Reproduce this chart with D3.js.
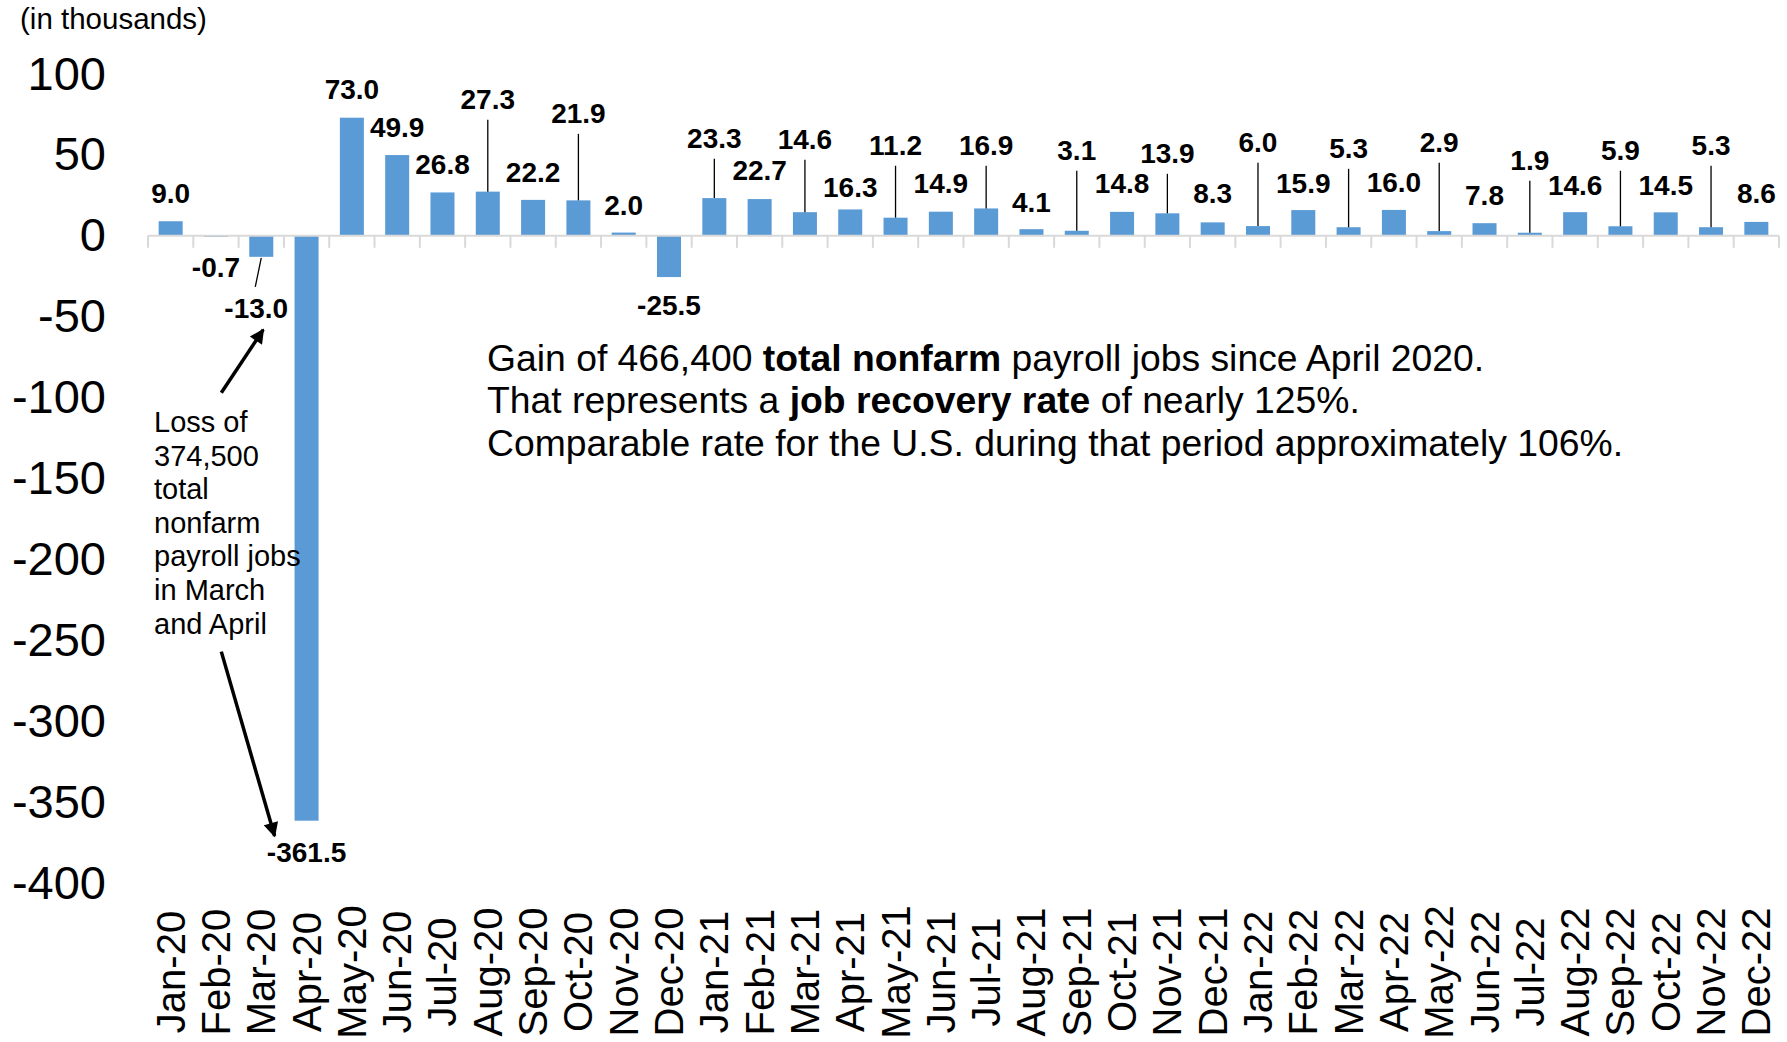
<!DOCTYPE html>
<html>
<head>
<meta charset="utf-8">
<script src="https://cdn.jsdelivr.net/npm/d3@7"></script>
<style>
  body { margin: 0; background: #fff; }
  text { font-family: "Liberation Sans", Arial, sans-serif; }
</style>
</head>
<body>
<svg id="chart" width="1787" height="1042"></svg>
<script>
const months = ["Jan-20","Feb-20","Mar-20","Apr-20","May-20","Jun-20","Jul-20","Aug-20","Sep-20","Oct-20","Nov-20","Dec-20",
  "Jan-21","Feb-21","Mar-21","Apr-21","May-21","Jun-21","Jul-21","Aug-21","Sep-21","Oct-21","Nov-21","Dec-21",
  "Jan-22","Feb-22","Mar-22","Apr-22","May-22","Jun-22","Jul-22","Aug-22","Sep-22","Oct-22","Nov-22","Dec-22"];
const change = [9.0,-0.7,-13.0,-361.5,73.0,49.9,26.8,27.3,22.2,21.9,2.0,-25.5,
  23.3,22.7,14.6,16.3,11.2,14.9,16.9,4.1,3.1,14.8,13.9,8.3,
  6.0,15.9,5.3,16.0,2.9,7.8,1.9,14.6,5.9,14.5,5.3,8.6];
// value (in thousands) at which each data label sits
const labelAt = [20.4,-25.3,-50.7,-386.9,84.7,61.2,38.3,78.5,33.4,69.8,13.0,-48.8,
  54.4,34.6,53.8,24.1,50.1,26.6,50.1,14.8,47.0,26.6,45.1,20.4,
  51.9,26.6,48.2,27.2,51.9,19.2,40.8,25.3,47.0,25.3,50.1,20.4];
// labels joined to their bar by a leader line
const leader = ["Mar-20","Aug-20","Oct-20","Jan-21","Mar-21","May-21","Jul-21","Sep-21","Nov-21",
  "Jan-22","Mar-22","May-22","Jul-22","Sep-22","Nov-22"];
const yTicks = [100,50,0,-50,-100,-150,-200,-250,-300,-350,-400];
const noteLines = ["Loss of","374,500","total","nonfarm","payroll jobs","in March","and April"];
const gainLines = [
  [["Gain of 466,400 ",false],["total nonfarm",true],[" payroll jobs since April 2020.",false]],
  [["That represents a ",false],["job recovery rate",true],[" of nearly 125%.",false]],
  [["Comparable rate for the U.S. during that period approximately 106%.",false]]
];

const svg = d3.select("#chart");
const x = d3.scaleBand().domain(months).range([148, 1779]).paddingInner(0.47).paddingOuter(0.235);
const band = d3.scaleBand().domain(months).range([148, 1779]);
const y = d3.scaleLinear().domain([-400, 100]).range([883, 74]);
const xc = m => x(m) + x.bandwidth() / 2;
const fmt1 = v => v.toFixed(1);  // plain hyphen for negatives, as in the original

svg.append("defs").append("marker")
    .attr("id", "arrow").attr("viewBox", "0 0 10 10")
    .attr("refX", 9).attr("refY", 5)
    .attr("markerWidth", 5).attr("markerHeight", 4.2)
    .attr("markerUnits", "strokeWidth")
    .attr("orient", "auto")
  .append("path").attr("d", "M0,0L10,5L0,10Z").attr("fill", "#000");

// unit note
svg.append("text").attr("x", 20).attr("y", 29)
    .attr("font-size", 29.5).text("(in thousands)");

// y axis labels
const yAxis = svg.append("g").attr("transform", "translate(110,0)")
    .call(d3.axisLeft(y).tickValues(yTicks).tickSize(0).tickPadding(4).tickFormat(d => String(d)));
yAxis.select(".domain").remove();
yAxis.selectAll("text").attr("font-size", 47).attr("fill", "#000")
    .attr("font-family", "'Liberation Sans', Arial, sans-serif");

// bars
svg.append("g").selectAll("rect")
  .data(months).join("rect")
    .attr("x", d => x(d))
    .attr("width", x.bandwidth())
    .attr("y", (d, i) => y(Math.max(0, change[i])))
    .attr("height", (d, i) => Math.abs(y(change[i]) - y(0)))
    .attr("fill", "#5b9bd5");

// x axis line and ticks
const axis = svg.append("g");
axis.append("line").attr("x1", band.range()[0]).attr("x2", band.range()[1])
    .attr("y1", y(0)).attr("y2", y(0)).attr("stroke", "#d9d9d9").attr("stroke-width", 2);
axis.selectAll("line.tk").data(months.concat(["end"])).join("line").attr("class", "tk")
    .attr("x1", (d, i) => band.range()[0] + i * band.step())
    .attr("x2", (d, i) => band.range()[0] + i * band.step())
    .attr("y1", y(0)).attr("y2", y(0) + 12)
    .attr("stroke", "#d9d9d9").attr("stroke-width", 2);
axis.selectAll("text").data(months).join("text")
    .attr("transform", d => `translate(${xc(d)},972) rotate(-90)`)
    .attr("text-anchor", "middle").attr("dy", "0.35em")
    .attr("font-size", 40).text(d => d);

// leader lines
svg.append("g").selectAll("line")
  .data(months.filter(m => leader.includes(m))).join("line")
    .attr("x1", d => xc(d) + (d === "Mar-20" ? -6 : 0))
    .attr("x2", d => xc(d))
    .attr("y1", d => {
      const i = months.indexOf(d);
      return change[i] < 0 ? y(labelAt[i]) - 31 : y(labelAt[i]) + 11;
    })
    .attr("y2", d => y(change[months.indexOf(d)]) + (change[months.indexOf(d)] < 0 ? 1 : 0))
    .attr("stroke", "#000").attr("stroke-width", 1.3);

// data labels
svg.append("g").selectAll("text")
  .data(months).join("text")
    .attr("x", d => xc(d) + (d === "Mar-20" ? -5 : 0))
    .attr("y", (d, i) => y(labelAt[i]))
    .attr("text-anchor", "middle")
    .attr("font-size", 28).attr("font-weight", "bold")
    .text((d, i) => fmt1(change[i]));

// loss annotation
const note = svg.append("text").attr("font-size", 29);
note.selectAll("tspan").data(noteLines).join("tspan")
    .attr("x", band("Jan-20") + 6)
    .attr("y", (d, i) => y(-121.3) + i * 33.6)
    .text(d => d);

const arrows = [
  [[band("Feb-20") + 28, y(-97)], [xc("Mar-20") + 2, y(-58)]],
  [[band("Feb-20") + 28, y(-257)], [band("Mar-20") + 36, y(-371)]]
];
svg.append("g").selectAll("line").data(arrows).join("line")
    .attr("x1", d => d[0][0]).attr("y1", d => d[0][1])
    .attr("x2", d => d[1][0]).attr("y2", d => d[1][1])
    .attr("stroke", "#000").attr("stroke-width", 3.5)
    .attr("marker-end", "url(#arrow)");

// gain annotation
const gain = svg.append("text").attr("font-size", 37.3);
gainLines.forEach((parts, li) => {
  parts.forEach(([t, b], pi) => {
    const ts = gain.append("tspan").text(t).attr("font-weight", b ? "bold" : "normal");
    if (pi === 0) ts.attr("x", 487).attr("y", y(-83.4) + li * 42.5);
  });
});
</script>
</body>
</html>
